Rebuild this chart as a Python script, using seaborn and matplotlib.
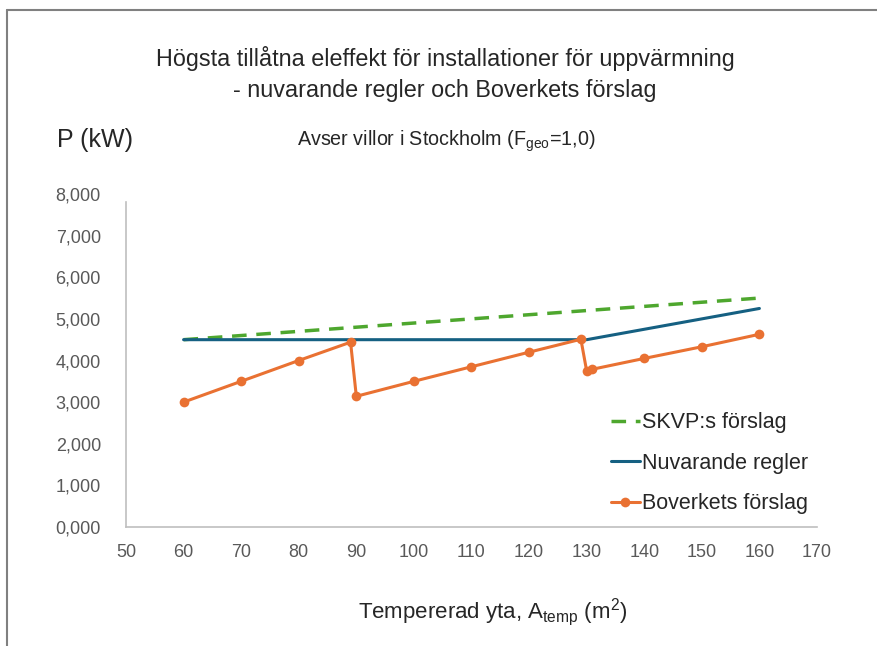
import matplotlib
matplotlib.use("Agg")
import matplotlib.pyplot as plt
from matplotlib.lines import Line2D
from matplotlib.ticker import FuncFormatter
import seaborn as sns
import pandas as pd

# data
skvp_x = [60, 160]
skvp_y = [4.5, 5.5]
nuv_x = [60, 130, 160]
nuv_y = [4.5, 4.5, 5.25]
bov_x = [60, 70, 80, 89, 90, 100, 110, 120, 129, 130, 131, 140, 150, 160]
bov_y = [3.0, 3.5, 4.0, 4.44, 3.14, 3.5, 3.85, 4.2, 4.51, 3.75, 3.79, 4.05, 4.33, 4.63]
x_ticks = list(range(50, 171, 10))
y_ticks = list(range(0, 9))

sns.set_style("white")
plt.rcParams["font.family"] = ["Liberation Sans", "DejaVu Sans"]
plt.rcParams["mathtext.fontset"] = "custom"
plt.rcParams["mathtext.rm"] = "Liberation Sans"
plt.rcParams["mathtext.it"] = "Liberation Sans"

fig = plt.figure(figsize=(8.78, 6.46), dpi=100)
ax = fig.add_axes([0.1435, 0.1842, 0.787, 0.5155])

skvp = pd.DataFrame({"x": skvp_x, "y": skvp_y})
nuv = pd.DataFrame({"x": nuv_x, "y": nuv_y})
bov = pd.DataFrame({"x": bov_x, "y": bov_y})

sns.lineplot(data=skvp, x="x", y="y", ax=ax, color="#4EA72E", linewidth=2.5,
             label="SKVP:s förslag")
ax.lines[-1].set_linestyle((0, (4.2, 2.8)))
sns.lineplot(data=nuv, x="x", y="y", ax=ax, color="#156082", linewidth=2.2,
             label="Nuvarande regler")
sns.lineplot(data=bov, x="x", y="y", ax=ax, color="#E97132", linewidth=2.2,
             marker="o", markersize=7, markeredgewidth=0, label="Boverkets förslag")

ax.set_xlim(50, 170)
ax.set_ylim(0, 8)
ax.set_xticks(x_ticks)
ax.set_yticks(y_ticks)
ax.yaxis.set_major_formatter(FuncFormatter(lambda v, p: f"{v:.3f}".replace(".", ",")))
ax.tick_params(axis="both", length=0, labelsize=13, labelcolor="#595959")
ax.tick_params(axis="y", pad=18)
ax.tick_params(axis="x", pad=12)
ax.set_xlabel("")
ax.set_ylabel("")
for side in ["top", "right"]:
    ax.spines[side].set_visible(False)
for side in ["left", "bottom"]:
    ax.spines[side].set_color("#BFBFBF")
    ax.spines[side].set_linewidth(1.2)
ax.spines["left"].set_bounds(0, 7.8)

leg = ax.legend(loc="upper left", bbox_to_anchor=(0.686, 0.375), bbox_transform=fig.transFigure,
                frameon=False, fontsize=15.5, handlelength=1.35, handletextpad=0.1,
                labelspacing=0.9, borderaxespad=0)

fig.text(0.507, 0.91, "Högsta tillåtna eleffekt för installationer för uppvärmning",
         ha="center", va="center", fontsize=16.8)
fig.text(0.507, 0.86, "- nuvarande regler och Boverkets förslag",
         ha="center", va="center", fontsize=16.8)
fig.text(0.065, 0.783, "P (kW)", ha="left", va="center", fontsize=18)
fig.text(0.508, 0.782, r"Avser villor i Stockholm (F$_{\mathrm{geo}}$=1,0)",
         ha="center", va="center", fontsize=14.2)
fig.text(0.561, 0.052, r"Tempererad yta, A$_{\mathrm{temp}}$ (m$^{2}$)",
         ha="center", va="center", fontsize=16)

# grey frame around the chart area (top and left edges visible in the screenshot)
fig.add_artist(Line2D([0.0085, 1.0], [0.985, 0.985], transform=fig.transFigure,
                      color="#808080", linewidth=1.5))
fig.add_artist(Line2D([0.0085, 0.0085], [0.0, 0.985], transform=fig.transFigure,
                      color="#808080", linewidth=1.5))

fig.savefig("out.png", dpi=100)
